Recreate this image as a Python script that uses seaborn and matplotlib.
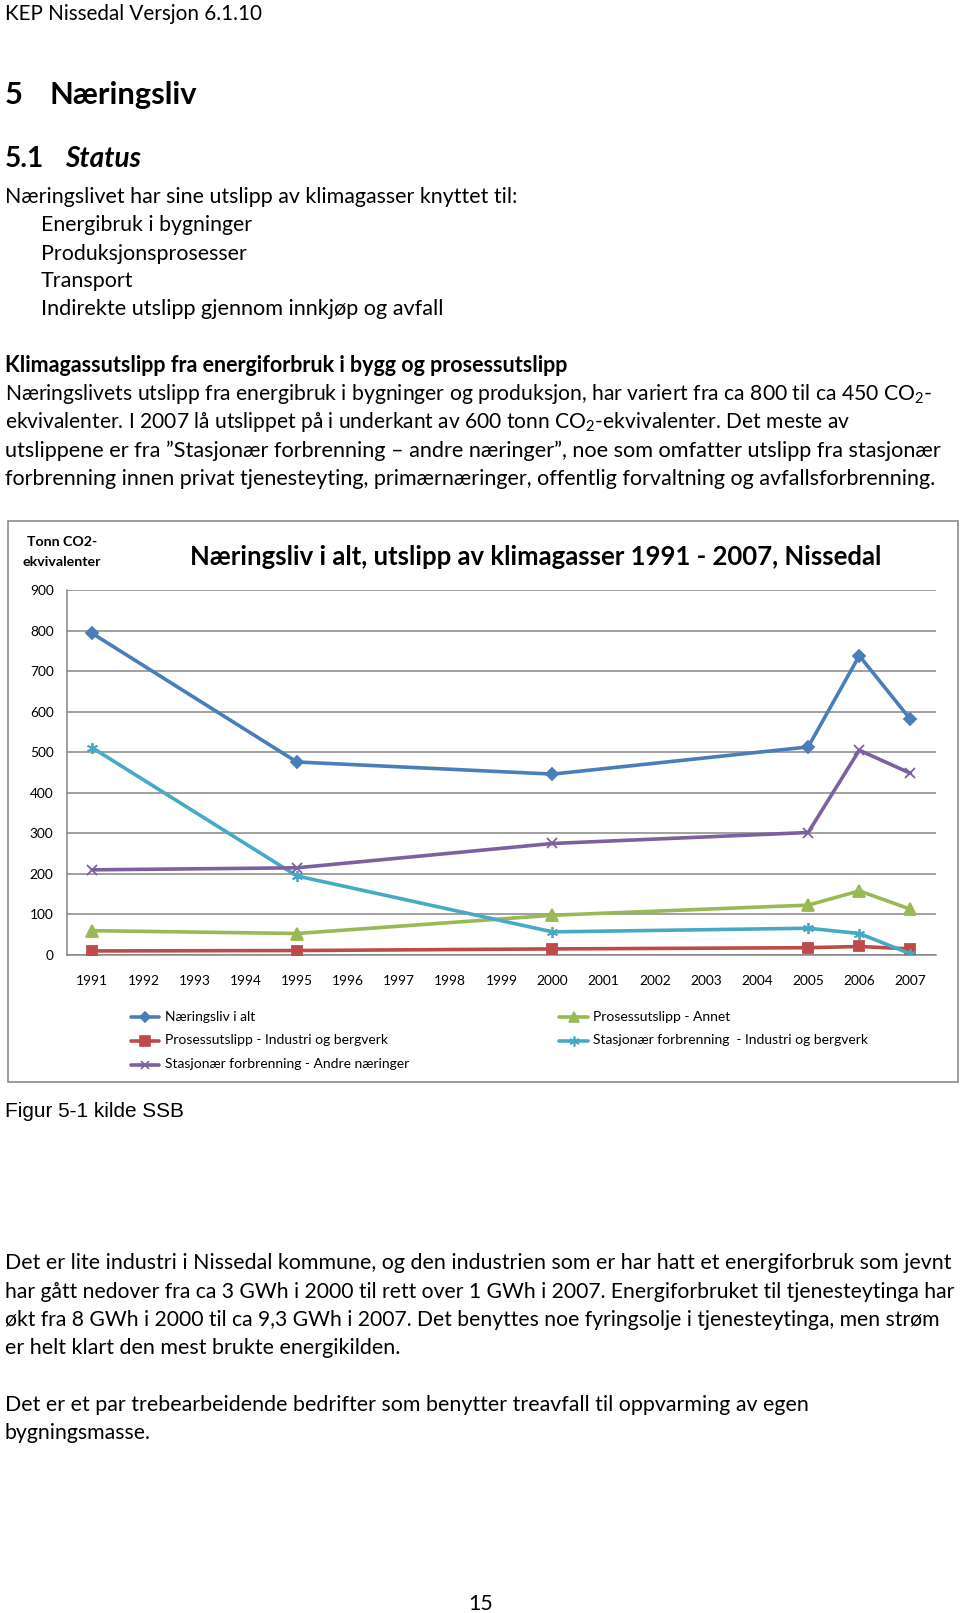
import matplotlib
matplotlib.use('Agg')
import matplotlib.pyplot as plt
import seaborn as sns
import numpy as np
from matplotlib.patches import Rectangle
from matplotlib.lines import Line2D

# ---------------- data ----------------
years = list(range(1991, 2008))
data_years = [1991, 1995, 2000, 2005, 2006, 2007]
naeringsliv_i_alt = [793, 476, 446, 513, 738, 581]
prosess_annet = [60, 53, 98, 123, 158, 113]
prosess_industri = [10, 11, 15, 18, 21, 15]
stasjonaer_industri = [511, 195, 57, 66, 53, 3]
stasjonaer_andre = [210, 215, 275, 302, 505, 448]
series_names = ["Næringsliv i alt",
                "Prosessutslipp - Annet",
                "Prosessutslipp - Industri og bergverk",
                "Stasjonær forbrenning  - Industri og bergverk",
                "Stasjonær forbrenning - Andre næringer"]
y_ticks = list(range(0, 1000, 100))

# ---------------- style ----------------
sns.set_style('white')
plt.rcParams['font.family'] = ['Lato', 'DejaVu Sans']
plt.rcParams['mathtext.fontset'] = 'custom'
plt.rcParams['mathtext.rm'] = 'Lato'
plt.rcParams['mathtext.it'] = 'Lato:italic'
plt.rcParams['mathtext.bf'] = 'Lato:bold'
plt.rcParams['mathtext.default'] = 'regular'

W, H = 960, 1613
DY = 2.5
fig = plt.figure(figsize=(W / 100, H / 100), dpi=100)
fig.patch.set_facecolor('white')
renderer = fig.canvas.get_renderer()


def fx(x):
    return x / W


def fy(y):
    return 1 - y / H


def fit_size(s, target_w, size=12, **kw):
    t = fig.text(0, 0, s, fontsize=size, **kw)
    for _ in range(4):
        w = t.get_window_extent(renderer).width
        size = size * target_w / w
        t.set_fontsize(size)
    t.remove()
    return size


def put(x, y, s, size, ha='left', **kw):
    return fig.text(fx(x), fy(y + DY), s, ha=ha, va='center', fontsize=size, color='black', **kw)


def put_fit(x, y, s, right, **kw):
    return put(x, y, s, fit_size(s, right - x, **kw), **kw)


# ---------------- page text ----------------
hdr = "KEP Nissedal Versjon 6.1.10"
put(5, 12, hdr, fit_size(hdr, 257))

h1s = fit_size("Næringsliv", 147.5, weight='bold')
put(5, 92.6, "5", h1s, weight='bold')
put(49, 92.6, "Næringsliv", h1s, weight='bold')

h2s = fit_size("Status", 76, weight='bold', style='italic')
put(5, 156.4, "5.1", h2s, weight='bold')
put(65, 156.4, "Status", h2s, weight='bold', style='italic')

body = fit_size("Næringslivet har sine utslipp av klimagasser knyttet til:", 511.5)
put(5, 194.5, "Næringslivet har sine utslipp av klimagasser knyttet til:", body)
for yy, s, r in zip([222.2, 251.0, 278.8, 306.6],
                    ["Energibruk i bygninger", "Produksjonsprosesser", "Transport",
                     "Indirekte utslipp gjennom innkjøp og avfall"],
                    [252, 247, 133, 442.4]):
    put_fit(41, yy, s, r)

put_fit(5, 363.2, "Klimagassutslipp fra energiforbruk i bygg og prosessutslipp", 567, weight='bold')
para1 = [
    "Næringslivets utslipp fra energibruk i bygninger og produksjon, har variert fra ca 800 til ca 450 CO$_2$-",
    "ekvivalenter. I 2007 lå utslippet på i underkant av 600 tonn CO$_2$-ekvivalenter. Det meste av",
    "utslippene er fra ”Stasjonær forbrenning – andre næringer”, noe som omfatter utslipp fra stasjonær",
    "forbrenning innen privat tjenesteyting, primærnæringer, offentlig forvaltning og avfallsforbrenning.",
]
for yy, s, r in zip([392.0, 419.8, 448.6, 476.4], para1, [933, 853, 940, 936]):
    put_fit(5, yy, s, r)

cap = "Figur 5-1 kilde SSB"
put(5, 1109, cap, fit_size(cap, 179, family='Liberation Sans'), family='Liberation Sans')

para2 = [
    "Det er lite industri i Nissedal kommune, og den industrien som er har hatt et energiforbruk som jevnt",
    "har gått nedover fra ca 3 GWh i 2000 til rett over 1 GWh i 2007. Energiforbruket til tjenesteytinga har",
    "økt fra 8 GWh i 2000 til ca 9,3 GWh i 2007. Det benyttes noe fyringsolje i tjenesteytinga, men strøm",
    "er helt klart den mest brukte energikilden.",
    "Det er et par trebearbeidende bedrifter som benytter treavfall til oppvarming av egen",
    "bygningsmasse.",
]
for yy, s, r in zip([1260.4, 1289.2, 1317.0, 1345.8, 1402.4, 1430.2], para2,
                    [950.7, 952.7, 936, 400, 807.7, 151]):
    put_fit(5, yy, s, r)
put(480.5, 1602, "15", body, ha='center')

# ---------------- chart box ----------------
fig.add_artist(Rectangle((fx(7.5), fy(1082)), (957.5 - 7.5) / W, (1082 - 521) / H,
                         transform=fig.transFigure, fill=False, edgecolor='#8c8c8c', lw=1.2))

ct = "Næringsliv i alt, utslipp av klimagasser 1991 - 2007, Nissedal"
put(536, 554.6, ct, fit_size(ct, 692, weight='bold'), ha='center', weight='bold')
us = fit_size("ekvivalenter", 78, weight='bold')
put(62, 540, "Tonn CO2-", us, ha='center', weight='bold')
put(62, 559, "ekvivalenter", us, ha='center', weight='bold')

ax = fig.add_axes([fx(66.7), fy(955), (936 - 66.7) / W, (955 - 590) / H])
ax.set_facecolor('white')

colors = ['#4A7EBB', '#98B954', '#BE4B48', '#46AAC5', '#7D60A0']
markers = ['D', '^', 's', (6, 2, 0), 'x']
msizes = [6.2, 8, 7.5, 8, 7]
series = [naeringsliv_i_alt, prosess_annet, prosess_industri, stasjonaer_industri, stasjonaer_andre]

for vals, c, m, ms in zip(series, colors, markers, msizes):
    sns.lineplot(x=data_years, y=vals, ax=ax, color=c, marker=m, markersize=ms,
                 linewidth=2.6, markeredgecolor=c, markerfacecolor=c,
                 markeredgewidth=1.3, legend=False, zorder=3)

gray = '#868686'
ax.set_xlim(1990.5, 2007.5)
ax.set_ylim(0, 900)
ax.set_yticks(y_ticks)
ax.set_yticklabels([str(v) for v in y_ticks])
ax.set_xticks(years)
ax.set_xticklabels([str(y) for y in years])
ax.set_xticks(np.arange(1990.5, 2008, 1.0), minor=True)
ax.yaxis.grid(True, color=gray, lw=1.1)
ax.xaxis.grid(False)
ax.set_axisbelow(True)
for side in ['top', 'right']:
    ax.spines[side].set_visible(False)
for side in ['left', 'bottom']:
    ax.spines[side].set_color(gray)
    ax.spines[side].set_linewidth(1.1)
tick_fs = fit_size("1991", 32)
ax.tick_params(axis='x', which='major', length=0, pad=14.5, labelsize=tick_fs, labelcolor='black')
ax.tick_params(axis='x', which='minor', length=4, width=1.1, color=gray, direction='out')
ax.tick_params(axis='y', which='major', length=4, width=1.1, color=gray, direction='out',
               pad=5.5, labelsize=tick_fs, labelcolor='black')
ax.set_xlabel('')
ax.set_ylabel('')

# ---------------- legend ----------------
leg_fs = fit_size("Næringsliv i alt", 90.5)
legend_pos = [(131, 159, 164.6, 1014.5), (559, 588, 593, 1014.5),
              (131, 159, 164.6, 1038), (559, 588, 593, 1038),
              (131, 159, 164.6, 1062)]
for (x0, x1, xt, yy), name, c, m, ms in zip(legend_pos, series_names, colors, markers, msizes):
    fig.add_artist(Line2D([fx(x0), fx(x1)], [fy(yy + DY), fy(yy + DY)], transform=fig.transFigure,
                          color=c, lw=2.6))
    fig.add_artist(Line2D([fx((x0 + x1) / 2)], [fy(yy + DY)], transform=fig.transFigure,
                          color=c, marker=m, markersize=ms * 0.9, markeredgecolor=c,
                          markerfacecolor=c, markeredgewidth=1.2, lw=0))
    put(xt, yy, name, leg_fs)

fig.savefig('out.png', dpi=100, facecolor='white')
